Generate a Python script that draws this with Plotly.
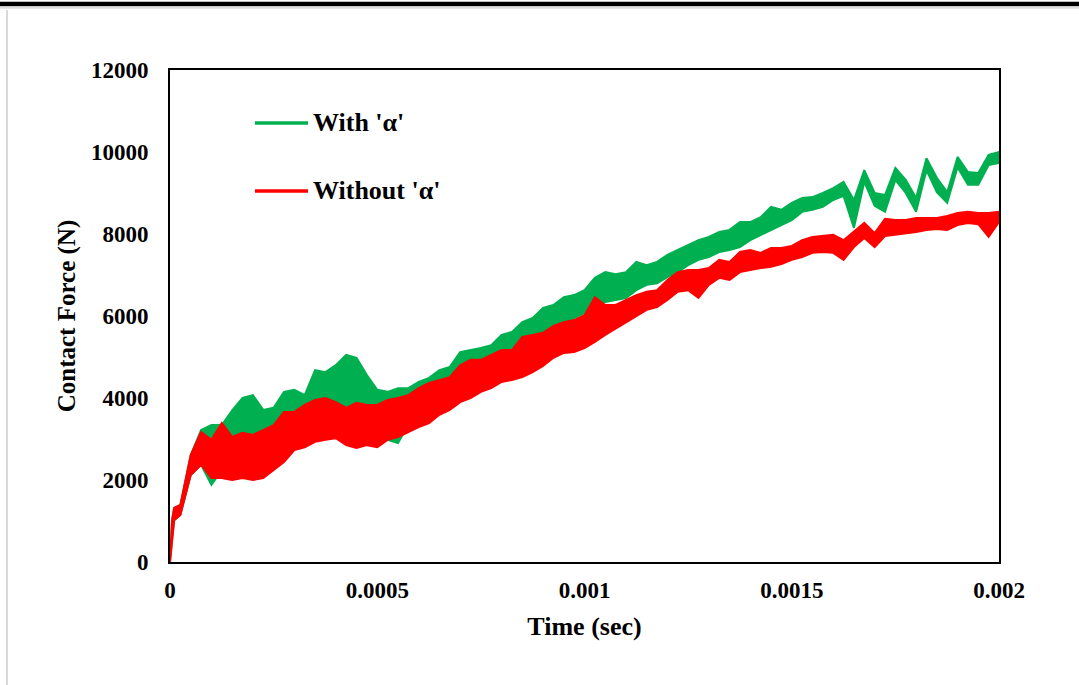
import plotly.graph_objects as go

# Time knots (s) and band envelopes (N)
t = [0, 0.000005, 0.00001] + [k * 0.000025 for k in range(1, 81)]

red_hi = [0, 1020, 1320,
          1390, 2610, 3170, 2980, 3390, 3050, 3150, 3100, 3220, 3340,
          3660, 3660, 3830, 3950, 4000, 3900, 3760, 3880, 3830, 3830,
          3950, 4000, 4070, 4240, 4370, 4440, 4510, 4800, 4930, 4930,
          5050, 5170, 5170, 5490, 5540, 5590, 5760, 5850, 5900, 6020,
          6460, 6270, 6270, 6390, 6510, 6590, 6630, 6880, 7070, 7120,
          7120, 7170, 7370, 7320, 7560, 7610, 7540, 7660, 7660, 7710,
          7850, 7930, 7950, 7980, 7850, 8050, 8270, 8020, 8370, 8340,
          8340, 8390, 8390, 8390, 8440, 8510, 8540, 8510, 8510, 8540]
red_lo = [0, 540, 1020,
          1150, 2120, 2370, 2050, 2050, 2000, 2050, 2000, 2050, 2240,
          2440, 2730, 2800, 2930, 2980, 3020, 2850, 2780, 2850, 2800,
          2980, 3050, 3170, 3290, 3390, 3590, 3710, 3900, 4000, 4150,
          4240, 4390, 4440, 4510, 4630, 4780, 4980, 5100, 5120, 5220,
          5370, 5540, 5710, 5850, 6000, 6150, 6220, 6390, 6590, 6630,
          6440, 6760, 6930, 6880, 7070, 7120, 7170, 7200, 7270, 7370,
          7440, 7540, 7560, 7540, 7370, 7680, 7900, 7680, 7950, 7980,
          8020, 8050, 8100, 8120, 8100, 8220, 8270, 8240, 7930, 8290]

green_hi = [0, 1020, 1320,
            1390, 2610, 3220, 3340, 3340, 3700, 4000, 4070, 3710, 3760,
            4150, 4200, 4070, 4680, 4630, 4800, 5050, 4980, 4560, 4200,
            4150, 4240, 4240, 4390, 4490, 4680, 4760, 5120, 5170, 5220,
            5290, 5540, 5610, 5850, 5950, 6200, 6270, 6460, 6510, 6630,
            6930, 7070, 7020, 7070, 7320, 7240, 7320, 7490, 7610, 7730,
            7850, 7930, 8050, 8100, 8290, 8290, 8410, 8660, 8590, 8760,
            8880, 8900, 9000, 9120, 9270, 8830, 9560, 9000, 8950, 9610,
            9320, 8880, 9850, 9370, 9020, 9880, 9510, 9490, 9930, 10000]
green_lo = [0, 540, 1020,
            1150, 2120, 2370, 1880, 2240, 2610, 2850, 2980, 2850, 2900,
            3220, 3270, 3170, 3590, 3660, 3830, 3710, 3460, 3590, 3100,
            2980, 2900, 3340, 3590, 3710, 3950, 4070, 4320, 4440, 4560,
            4730, 4880, 4980, 5170, 5290, 5460, 5590, 5780, 5950, 6070,
            6270, 6340, 6390, 6440, 6630, 6760, 6800, 6950, 7070, 7240,
            7370, 7440, 7560, 7610, 7680, 7850, 7980, 8100, 8220, 8340,
            8540, 8590, 8660, 8830, 8930, 8150, 9270, 8690, 8540, 9320,
            9000, 8540, 9560, 9020, 8760, 9630, 9200, 9200, 9680, 9730]

x_ticks = [0, 0.0005, 0.001, 0.0015, 0.002]
x_labels = ["0", "0.0005", "0.001", "0.0015", "0.002"]
y_ticks = [0, 2000, 4000, 6000, 8000, 10000, 12000]
y_labels = ["0", "2000", "4000", "6000", "8000", "10000", "12000"]

series_names = ["With 'α'", "Without 'α'"]
series_colors = ["#00B050", "#FF0000"]
series_hi = [green_hi, red_hi]
series_lo = [green_lo, red_lo]

FONT = "Liberation Serif, Times New Roman, serif"

fig = go.Figure()
for name, color, hi, lo in zip(series_names, series_colors, series_hi, series_lo):
    fig.add_trace(go.Scatter(
        x=t + t[::-1], y=hi + lo[::-1], mode="lines", fill="toself",
        fillcolor=color, line=dict(color=color, width=2),
        name=name, showlegend=False, hoverinfo="skip"))

# legend drawn as line samples + labels (matching the reference layout)
legend_y = [0.8923, 0.7541]
shapes = []
annotations = []
for name, color, ly in zip(series_names, series_colors, legend_y):
    shapes.append(dict(type="line", xref="paper", yref="paper",
                       x0=0.1025, x1=0.1665, y0=ly, y1=ly,
                       line=dict(color=color, width=3.5)))
    annotations.append(dict(xref="paper", yref="paper", x=0.1705, y=ly,
                            xanchor="left", yanchor="middle", showarrow=False,
                            text=name,
                            font=dict(family=FONT, size=26, color="black",
                                      weight="bold")))

# page frame lines (top black rule, light left rule)
shapes += [
    dict(type="line", xref="paper", yref="paper", x0=-0.21, x1=1.1,
         y0=1.134, y1=1.134, line=dict(color="black", width=4.5)),
    dict(type="line", xref="paper", yref="paper", x0=-0.21, x1=1.1,
         y0=1.1265, y1=1.1265, line=dict(color="#dddddd", width=2)),
    dict(type="line", xref="paper", yref="paper", x0=-0.1966, x1=-0.1966,
         y0=1.122, y1=-0.26, line=dict(color="#d9d9d9", width=2)),
]

fig.update_layout(
    width=1079, height=685,
    margin=dict(l=170, r=80, t=70, b=123),
    paper_bgcolor="white", plot_bgcolor="white",
    font=dict(family=FONT, size=23, color="black", weight="bold"),
    showlegend=False,
    xaxis=dict(range=[0, 0.002], tickvals=x_ticks, ticktext=x_labels,
               showgrid=False, zeroline=False, showline=True, mirror=True,
               linecolor="black", linewidth=2, ticks="", ticklabelstandoff=6,
               tickfont=dict(family=FONT, size=23, weight="bold"),
               title=dict(text="Time (sec)", standoff=15,
                          font=dict(family=FONT, size=26, weight="bold"))),
    yaxis=dict(range=[0, 12000], tickvals=y_ticks, ticktext=y_labels,
               showgrid=False, zeroline=False, showline=True, mirror=True,
               linecolor="black", linewidth=2, ticks="", ticklabelstandoff=15,
               tickfont=dict(family=FONT, size=23, weight="bold"),
               title=dict(text="Contact Force (N)", standoff=8,
                          font=dict(family=FONT, size=25, weight="bold"))),
    shapes=shapes,
    annotations=annotations,
)

fig.write_html("out.html", config={"displayModeBar": False},
               post_script="document.body.style.margin='0';")
